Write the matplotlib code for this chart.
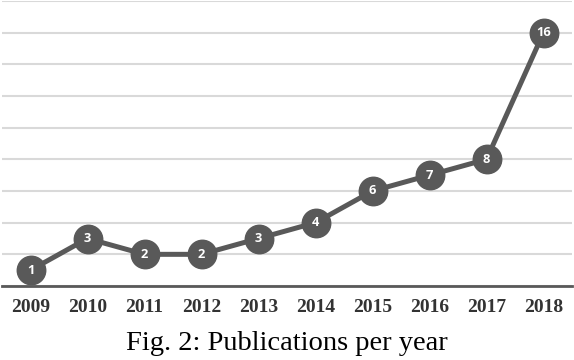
import matplotlib
matplotlib.use("Agg")
import matplotlib.pyplot as plt

years = ["2009", "2010", "2011", "2012", "2013", "2014", "2015", "2016", "2017", "2018"]
publications = [1, 3, 2, 2, 3, 4, 6, 7, 8, 16]
caption = "Fig. 2: Publications per year"

fig = plt.figure(figsize=(5.74, 3.6), dpi=100)
ax = fig.add_axes([2/574, 74/360, 570/574, 285/360])

x = list(range(len(years)))
ax.plot(x, publications, color="#595959", linewidth=3.6, marker="o",
        markersize=20.5, markerfacecolor="#595959", markeredgecolor="#595959",
        solid_capstyle="round", zorder=3)
for xi, v in zip(x, publications):
    ax.text(xi, v, str(v), ha="center", va="center", color="white",
            fontsize=9.3, fontweight="bold", family="Open Sans", zorder=4)

ax.set_xlim(-0.5, len(years) - 0.5)
ax.set_ylim(0, 18)
ax.set_yticks(range(0, 19, 2))
ax.yaxis.grid(True, color="#d9d9d9", linewidth=1.5)
ax.set_axisbelow(True)
ax.tick_params(axis="y", left=False, labelleft=False)
ax.tick_params(axis="x", length=0, pad=9)
ax.set_xticks(x)
ax.set_xticklabels(years, fontsize=14, fontweight="bold", family="Liberation Serif", color="#333333")
for s in ["top", "left", "right"]:
    ax.spines[s].set_visible(False)
ax.spines["bottom"].set_color("#595959")
ax.spines["bottom"].set_linewidth(2)

fig.text(0.5, 1 - 344/360, caption, ha="center", va="center", fontsize=20.5,
         family="Liberation Serif", color="black")

fig.savefig("out.png", dpi=100)
